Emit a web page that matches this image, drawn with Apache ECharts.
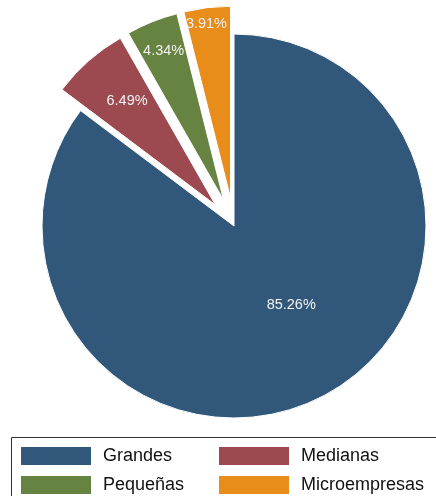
<!DOCTYPE html>
<html><head><meta charset="utf-8">
<script src="https://cdn.jsdelivr.net/npm/echarts@6/dist/echarts.min.js"></script>
<style>html,body{margin:0;padding:0;background:#fff}#c{width:436px;height:496px}</style>
</head><body><div id="c"></div>
<script>
const categories = ['Grandes', 'Medianas', 'Pequeñas', 'Microempresas'];
const shares = [85.26, 6.49, 4.34, 3.91];
const colors = ['#31587b', '#9c4a50', '#678341', '#e88c1a'];
const exploded = [false, true, true, true];
// label nudges (px) relative to ECharts' default inside position
const labelOffsets = [[13, -10], [-23, -30], [-23, -57], [-12, -76]];
const labelSize = 14.5;

const chart = echarts.init(document.getElementById('c'), null, {renderer: 'canvas'});
const data = categories.map((n, i) => ({
  name: n, value: shares[i], selected: exploded[i],
  itemStyle: {color: colors[i]},
  label: {offset: labelOffsets[i]},
  select: {
    itemStyle: {color: colors[i], borderColor: '#fff', borderWidth: 1},
    label: {offset: labelOffsets[i], fontSize: labelSize, color: '#f2f2f2'}
  }
}));
const legendBase = {
  orient: 'vertical', top: 445, padding: 0, height: 60,
  itemWidth: 72, itemHeight: 20, itemGap: 7, icon: 'rect',
  selectedMode: false,
  textStyle: {fontFamily: 'Liberation Sans', fontSize: 18, color: '#111', padding: [0, 0, 0, 6]}
};
chart.setOption({
  animation: false,
  legend: [
    Object.assign({}, legendBase, {left: 19, data: [categories[0], categories[2]]}),
    Object.assign({}, legendBase, {left: 217, data: [categories[1], categories[3]]})
  ],
  graphic: [{
    type: 'rect', shape: {x: 11.5, y: 437.5, width: 440, height: 70},
    style: {fill: 'none', stroke: '#333', lineWidth: 1}
  }],
  series: [{
    type: 'pie',
    center: [234, 226], radius: 192,
    startAngle: 90, clockwise: true,
    selectedMode: 'multiple', selectedOffset: 28,
    avoidLabelOverlap: false,
    itemStyle: {borderColor: '#fff', borderWidth: 1},
    label: {
      show: true, position: 'inside',
      formatter: p => p.value.toFixed(2) + '%',
      fontFamily: 'Liberation Sans', fontSize: labelSize, color: '#f2f2f2'
    },
    labelLine: {show: false},
    labelLayout: {hideOverlap: false},
    emphasis: {disabled: true},
    data: data
  }]
});
</script></body></html>
